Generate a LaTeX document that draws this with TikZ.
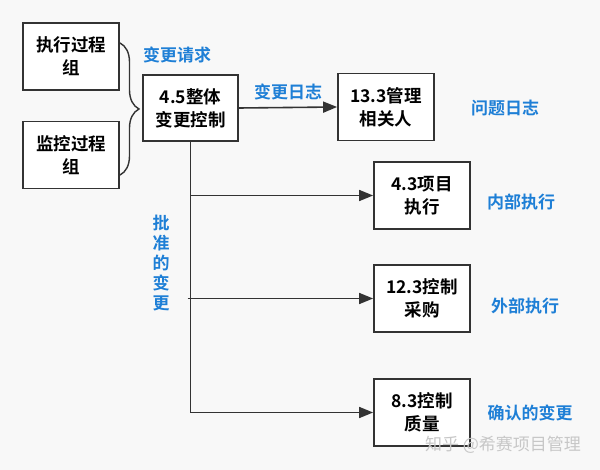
\documentclass[tikz,border=0pt]{standalone}
\usepackage{fontspec}
\setmainfont{Noto Sans CJK SC}[BoldFont={Noto Sans CJK SC Bold}]
\usetikzlibrary{arrows.meta,decorations.pathreplacing}
\definecolor{bg}{HTML}{F8F8F8}
\definecolor{lbl}{HTML}{1E7FD6}
\definecolor{ln}{HTML}{333333}
\tikzset{
  box/.style={draw=ln,line width=1.8pt,fill=white,minimum width=96pt,minimum height=67pt,inner sep=0pt,align=center,font=\fontsize{17.5}{23}\selectfont\bfseries,text=black},
  lab/.style={text=lbl,font=\fontsize{17}{20}\selectfont\bfseries,inner sep=0pt,align=center},
  conn/.style={draw=ln,line width=1.6pt},
  arr/.style={conn,-{Triangle[length=14pt,width=11pt]}}
}
\begin{document}
\begin{tikzpicture}[x=1pt,y=-1pt]
\fill[bg] (0,0) rectangle (600,470);
\useasboundingbox (0,0) rectangle (600,470);
\node[box] (exec) at (71,56.5) {执行过程\\组};
\node[box] (mon) at (71,155) {监控过程\\组};
\coordinate (bt) at (120,43);
\coordinate (bb) at (120,175);
\draw[conn,line width=1.4pt,decorate,decoration={brace,amplitude=19pt}] (bt) -- (bb);
\node[lab] (req) at (177,55) {变更请求};
\node[box,minimum width=95pt,minimum height=66pt] (c45) at (190.5,108) {4.5整体\\变更控制};
\node[box] (s133) at (386,107) {13.3管理\\相关人};
\node[lab] (log) at (288,92) {变更日志};
\node[lab] (iss) at (505,108) {问题日志};
\node[box] (p43) at (422,195.5) {4.3项目\\执行};
\node[lab] (int) at (521,202) {内部执行};
\node[box] (p123) at (422,298.5) {12.3控制\\采购};
\node[lab] (ext) at (525,306) {外部执行};
\node[box] (q83) at (422,412.5) {8.3控制\\质量};
\node[lab] (conf) at (530,413) {确认的变更};
\node[lab] (appr) at (161,263) {批\\准\\的\\变\\更};
\draw[arr] (c45.east) -- (s133.west);
\coordinate (corner) at (c45.south |- q83.west);
\draw[conn] (c45.south) -- (corner);
\draw[arr] (c45.south |- p43.west) -- (p43.west);
\draw[arr] (c45.south |- p123.west) ++(-3,0) -- (p123.west);
\draw[arr] (corner) -- (q83.west);
\node[text=black!22,font=\fontsize{17}{20}\selectfont,inner sep=0pt] (wm) at (503,445) {知乎 @希赛项目管理};
\end{tikzpicture}
\end{document}
